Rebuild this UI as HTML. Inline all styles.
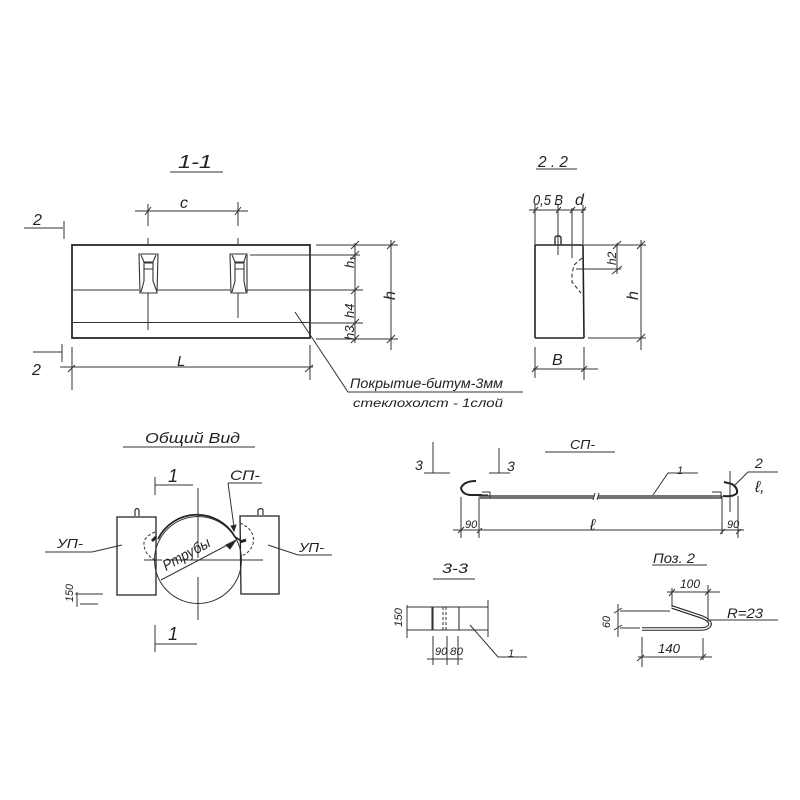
<!DOCTYPE html>
<html><head><meta charset="utf-8"><style>
html,body{margin:0;padding:0;background:#fff}
svg{display:block}
text{font-family:"Liberation Sans",sans-serif;font-style:italic;fill:#222}
</style></head><body>
<svg width="800" height="800" viewBox="0 0 800 800" xmlns="http://www.w3.org/2000/svg">
<rect width="800" height="800" fill="#fff"/>
<g fill="none" stroke="#333" stroke-width="1">
<!-- 1-1 -->
<path d="M170 172H223"/>
<path d="M24 228H63M64 221V239M33 352H62M62 344V362"/>
<path d="M72 245H310V338H72Z" stroke-width="1.700" stroke="#222"/>
<path d="M73 290H139M158 290H230M247 290H310M73 322.500H310" stroke-width="1"/>
<path d="M139 254H158L157 293H140ZM141 255L144 262H153L156 255M144 262V281M153 262V281M144 263H153M144 269H153M144 281L141 292M153 281L157 292" stroke-width="1.100"/>
<path d="M230 254H247L247 293H231ZM232 255L235 262H244L246 255M235 262V281M244 262V281M235 263H244M235 269H244M235 281L232 292M244 281L246 292" stroke-width="1.100"/>
<path d="M148 204V226M148 238V244M238 202V226M238 238V244M148 293V330M238 293V318"/>
<path d="M135 211H248M145 215L151 207M235 215L241 207"/>
<path d="M72 347V390M310 345V380M60 367H313M68 372L75 365M305 372L313 365"/>
<path d="M250 255H360M311 290H363M311 323H363M316 245H398M316 339H398"/>
<path d="M355 243V343M391 240V350M351 249L359 241M351 259L359 251M351 294L359 286M351 327L359 319M351 343L359 335M387 249L395 241M387 343L395 335"/>
<path d="M295 312L348 392H523"/>
<!-- 2-2 -->
<path d="M536 169H577"/>
<path d="M535 245H583M535 245V338M583 245L584 338M535 338H584" stroke-width="1.600" stroke="#222"/>
<path d="M529 210H586M535 205V245M558 205V255M572 208V258M583 205V245M533 213L538 207M556 213L561 207M570 213L575 207M581 213L586 207"/>
<path d="M555 245V238Q555 236 558 236Q561 236 561 238V245" stroke-width="1.400"/>
<path d="M582 258L574 265L572 274V282L581 293" stroke-dasharray="4 2.500" stroke-width="1.100"/>
<path d="M576 269H621M584 245H646M588 338H646M617 243V274M641 240V350M613 249L621 241M612 274L622 266M637 249L645 241M637 342L645 334"/>
<path d="M535 347V378M584 347V380M533 369H598M532 372L538 366M581 372L587 366"/>
<!-- Общий вид -->
<path d="M123 447H255"/>
<path d="M155 477V495M155 485H193M198 488V558M198 577V620M155 625V652M155 644H197"/>
<path d="M117 517H156V595H117ZM240 516H279V594H241Z" stroke-width="1.300" stroke="#222"/>
<path d="M135 516V510Q137 507 139 510V516M258 515V510Q261 507 263 510V515" stroke-width="1.200"/>
<circle cx="198" cy="560" r="43.500" stroke-width="1"/>
<path d="M158 539A43.500 43.500 0 0 1 235 537L243 542" stroke-width="1.700" stroke="#222"/>
<path d="M155 532Q143 537 144 545Q145 555 155 560M240 523Q256 530 253 544Q250 553 241 556" stroke-dasharray="3 2"/>
<path d="M152 541L156 537M240 542L246 540" stroke-width="3" stroke="#222"/>
<path d="M144 560H162M165 560H263"/>
<path d="M161 580L235 541"/>
<path d="M226 545L236 540L230 549Z" fill="#222"/>
<path d="M228 483H262M228 483L234 527"/>
<path d="M231 526L236 525L234 531Z" fill="#222"/>
<path d="M45 552H92L122 545M268 545L298 555H332"/>
<path d="M77 592V607M75 594H103M80 604H98"/>
<!-- СП -->
<path d="M545 452H615"/>
<path d="M433 442V473M424 473H450M499 448V473M489 473H510"/>
<path d="M476 481Q464 481 461 488Q462 494 470 495H482" stroke-width="2" stroke="#222"/>
<path d="M479 496H594M598 496H722M480 498H594M598 498H722" stroke-width="1.300" stroke="#222"/>
<path d="M482 492H490V498M479 495H488M712 492H721V498M716 496H722" stroke-width="1"/>
<path d="M595 493L593 500M599 493L597 500"/>
<path d="M724 482L732 484Q738 488 737 493Q734 497 723 496" stroke-width="2" stroke="#222"/>
<path d="M653 495L668 473H698M735 485L748 472H778"/>
<path d="M461 497V538M479 497V538M722 496V534M730 471V512M738 496V538M453 530H744M458 533L464 527M477 533L482 528M720 534L725 529M736 534L741 529"/>
<!-- 3-3 -->
<path d="M433 579H475"/>
<path d="M407 607H488M407 630H488M488 600V637M407 605V638"/>
<path d="M432 607H459V630H432ZM433 607V630" stroke-width="1.100"/>
<path d="M443 607V630M446 607V630" stroke-dasharray="3 2"/>
<path d="M433 636V665M447 636V665M458 636V665M427 659H463M433 662V658"/>
<path d="M470 625L498 657H527"/>
<!-- Поз 2 -->
<path d="M652 565H707"/>
<path d="M672 607L702 617Q711 621 710 625Q708 629 701 629H642" stroke-width="3.600" stroke="#222"/>
<path d="M672 607L702 617Q711 621 710 625Q708 629 701 629H642" stroke-width="1.400" stroke="#fff"/>
<path d="M620 611H670M620 628H640M618 604V637M614 613L622 608M614 630L622 625"/>
<path d="M667 592H720M672 588V607M708 585V623M669 596L675 589M705 595L711 589"/>
<path d="M710 620H778"/>
<path d="M642 637V667M703 638V660M638 657H712M637 661L644 655M700 660L706 654"/>
</g>
<g>
<text x="178" y="168" font-size="18" textLength="34" lengthAdjust="spacingAndGlyphs">1-1</text>
<text x="180" y="208" font-size="16">c</text>
<text x="33" y="225" font-size="16">2</text>
<text x="32" y="375" font-size="16">2</text>
<text x="177" y="366" font-size="15">L</text>
<text font-size="13" transform="translate(354,268) rotate(-90)">h₁</text>
<text font-size="13" transform="translate(354,318) rotate(-90)">h4</text>
<text font-size="13" transform="translate(354,340) rotate(-90)">h3</text>
<text font-size="16" transform="translate(395,300) rotate(-90)">h</text>
<text x="350" y="388" font-size="14" textLength="153" lengthAdjust="spacingAndGlyphs">Покрытие-битум-3мм</text>
<text x="353" y="407" font-size="12" textLength="150" lengthAdjust="spacingAndGlyphs">стеклохолст - 1слой</text>
<text x="538" y="167" font-size="16" textLength="30" lengthAdjust="spacingAndGlyphs">2 . 2</text>
<text x="533" y="205" font-size="15" textLength="30" lengthAdjust="spacingAndGlyphs">0,5 B</text>
<text x="575" y="205" font-size="16">d</text>
<text font-size="12" transform="translate(616,265) rotate(-90)">h2</text>
<text font-size="16" transform="translate(638,300) rotate(-90)">h</text>
<text x="552" y="365" font-size="16">B</text>
<text x="145" y="443" font-size="15" textLength="95" lengthAdjust="spacingAndGlyphs">Общий  Вид</text>
<text x="168" y="482" font-size="18">1</text>
<text x="230" y="480" font-size="14" textLength="30" lengthAdjust="spacingAndGlyphs">СП-</text>
<text x="57" y="548" font-size="13" textLength="26" lengthAdjust="spacingAndGlyphs">УП-</text>
<text x="299" y="552" font-size="13" textLength="25" lengthAdjust="spacingAndGlyphs">УП-</text>
<text font-size="15" transform="translate(166,571) rotate(-29)" textLength="52" lengthAdjust="spacingAndGlyphs">Ртрубы</text>
<text font-size="11" transform="translate(73,602) rotate(-90)" textLength="18" lengthAdjust="spacingAndGlyphs">150</text>
<text x="168" y="640" font-size="18">1</text>
<text x="570" y="449" font-size="13" textLength="25" lengthAdjust="spacingAndGlyphs">СП-</text>
<text x="415" y="470" font-size="14">3</text>
<text x="507" y="471" font-size="14">3</text>
<text x="677" y="474" font-size="11">1</text>
<text x="755" y="468" font-size="14">2</text>
<text x="755" y="492" font-size="16">ℓ,</text>
<text x="465" y="528" font-size="11">90</text>
<text x="727" y="528" font-size="11">90</text>
<text x="590" y="530" font-size="16">ℓ</text>
<text x="442" y="573" font-size="14" textLength="26" lengthAdjust="spacingAndGlyphs">3-3</text>
<text x="653" y="563" font-size="14" textLength="42" lengthAdjust="spacingAndGlyphs">Поз. 2</text>
<text font-size="11" transform="translate(402,627) rotate(-90)" textLength="19" lengthAdjust="spacingAndGlyphs">150</text>
<text font-size="11" transform="translate(610,628) rotate(-90)" textLength="12" lengthAdjust="spacingAndGlyphs">60</text>
<text x="435" y="655" font-size="11">90</text>
<text x="450" y="655" font-size="11" textLength="13" lengthAdjust="spacingAndGlyphs">80</text>
<text x="508" y="657" font-size="11">1</text>
<text x="680" y="588" font-size="12" textLength="20" lengthAdjust="spacingAndGlyphs">100</text>
<text x="727" y="618" font-size="14" textLength="36" lengthAdjust="spacingAndGlyphs">R=23</text>
<text x="658" y="653" font-size="13" textLength="22" lengthAdjust="spacingAndGlyphs">140</text>
</g>
</svg>
</body></html>
